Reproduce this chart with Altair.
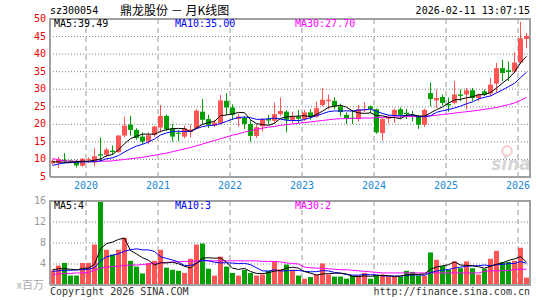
import altair as alt
import pandas as pd
import numpy as np

# ---------------- data (monthly, Jul 2019 .. Feb 2026) ----------------
opens = [8.9, 9.0, 9.9, 9.7, 9.3, 8.2, 9.8, 9.1, 11.5, 11.3,
         12.5, 12.1, 16.8, 19.9, 18.4, 16.5, 15.1, 17.0, 19.1, 22.4,
         18.9, 17.6, 16.5, 17.8, 18.9, 23.6, 21.5, 19.6, 20.3, 26.7,
         24.8, 21.5, 21.8, 20.1, 16.7, 19.4, 21.5, 21.0, 22.9, 23.6,
         21.3, 22.2, 21.5, 23.4, 22.2, 25.5, 26.6, 26.7, 25.1, 22.7,
         21.9, 21.5, 24.0, 25.1, 24.3, 17.5, 21.6, 22.7, 24.3, 23.3,
         22.5, 22.4, 19.9, 28.9, 26.8, 27.8, 25.8, 26.1, 28.5, 28.5,
         29.7, 27.5, 29.4, 28.8, 31.6, 36.0, 35.4, 35.1, 37.6, 44.3]
highs = [10.0, 10.7, 11.8, 9.9, 9.9, 10.4, 10.6, 13.2, 16.2, 13.4,
         14.0, 17.0, 22.2, 22.4, 18.9, 17.7, 17.7, 19.6, 25.5, 22.8,
         20.1, 18.3, 19.6, 19.9, 24.3, 27.2, 22.7, 21.3, 28.4, 28.9,
         25.7, 23.0, 22.4, 21.2, 20.0, 21.8, 22.7, 26.2, 27.6, 24.0,
         23.6, 24.1, 24.1, 24.3, 26.5, 30.3, 28.5, 27.7, 25.9, 23.4,
         24.1, 25.5, 26.3, 25.4, 24.5, 22.0, 22.7, 24.5, 24.8, 24.4,
         23.8, 22.7, 24.5, 31.9, 29.9, 28.5, 27.6, 32.3, 29.9, 30.4,
         30.4, 28.8, 29.9, 33.2, 37.5, 38.4, 37.9, 40.5, 49.2, 46.0]
lows = [8.5, 7.5, 8.9, 9.0, 7.7, 7.9, 9.0, 8.0, 9.4, 10.6,
        11.3, 11.8, 16.3, 16.8, 15.6, 14.4, 14.3, 16.4, 17.7, 18.1,
        15.1, 15.2, 16.0, 16.3, 18.6, 20.1, 18.9, 19.3, 20.0, 22.7,
        21.3, 19.4, 18.7, 15.1, 16.1, 18.0, 19.9, 20.3, 22.4, 17.7,
        20.3, 20.3, 21.0, 21.3, 21.9, 25.1, 24.3, 24.3, 22.2, 20.1,
        20.1, 20.8, 23.4, 23.2, 17.3, 15.3, 20.3, 20.4, 21.5, 21.5,
        20.9, 18.7, 19.3, 25.1, 24.7, 25.4, 23.6, 25.7, 26.6, 24.2,
        26.6, 26.6, 28.1, 28.0, 29.0, 32.3, 32.3, 34.6, 37.2, 41.7]
closes = [9.6, 10.1, 9.5, 9.4, 8.3, 10.2, 10.1, 10.9, 11.1, 12.8,
          12.1, 16.8, 19.6, 18.4, 16.1, 15.1, 16.9, 19.4, 22.4, 18.6,
          16.5, 17.3, 18.9, 18.5, 23.9, 21.3, 19.9, 20.5, 26.8, 24.8,
          22.7, 22.2, 20.1, 16.7, 19.2, 21.5, 21.1, 22.9, 23.8, 21.3,
          22.2, 21.6, 23.4, 22.2, 24.6, 27.0, 27.0, 25.1, 23.5, 21.8,
          21.6, 24.3, 24.3, 24.4, 17.7, 21.5, 22.0, 24.1, 22.7, 22.9,
          22.2, 19.9, 24.1, 27.2, 27.5, 26.1, 25.4, 28.5, 28.1, 29.7,
          27.5, 28.4, 28.5, 31.3, 36.0, 34.6, 34.9, 37.6, 44.5, 45.2]
volumes = [2.8, 3.7, 4.2, 1.8, 1.8, 4.2, 4.2, 7.7, 16.5, 6.7,
           5.8, 6.7, 9.0, 4.6, 3.5, 2.2, 4.2, 4.6, 6.7, 3.3,
           2.9, 2.7, 2.3, 5.0, 7.7, 7.9, 3.1, 1.8, 5.4, 3.5,
           2.3, 1.8, 2.9, 2.3, 1.8, 2.0, 2.7, 4.4, 3.0, 3.9,
           2.9, 1.8, 1.2, 1.5, 2.0, 4.1, 2.0, 1.6, 1.6, 1.2,
           1.8, 1.8, 2.3, 1.2, 1.8, 2.0, 1.6, 1.6, 1.6, 2.7,
           2.5, 1.8, 1.8, 6.2, 4.8, 3.6, 2.9, 4.5, 3.2, 4.5,
           3.2, 2.0, 3.1, 5.0, 6.5, 4.4, 4.4, 4.6, 7.1, 1.4]
# 30-month averages as drawn (they depend on months before the window)
price_ma30 = [10.3, 9.8, 9.6, 9.5, 9.5, 9.4, 9.4, 9.4, 9.5, 9.5,
              9.6, 9.8, 10.0, 10.2, 10.4, 10.6, 10.9, 11.2, 11.5, 11.8,
              12.2, 12.6, 13.0, 13.4, 13.9, 14.4, 14.9, 15.4, 15.9, 16.4,
              16.9, 17.3, 17.8, 18.2, 18.6, 18.9, 19.2, 19.4, 19.7, 19.9,
              20.1, 20.3, 20.5, 20.7, 20.9, 21.1, 21.3, 21.5, 21.6, 21.6,
              21.7, 21.7, 21.8, 21.8, 21.9, 22.0, 22.0, 22.1, 22.1, 22.2,
              22.2, 22.2, 22.3, 22.4, 22.6, 22.8, 23.0, 23.2, 23.4, 23.6,
              23.8, 24.0, 24.3, 24.5, 24.8, 25.2, 25.6, 26.1, 26.8, 27.7]
vol_ma30 = [2.0, 2.1, 2.2, 2.2, 2.3, 2.3, 2.4, 2.8, 3.2, 3.4,
            3.5, 3.6, 3.7, 3.8, 3.8, 3.9, 4.0, 4.1, 4.2, 4.3,
            4.4, 4.4, 4.5, 4.5, 4.6, 4.6, 4.6, 4.6, 4.6, 4.6,
            4.6, 4.6, 4.6, 4.6, 4.6, 4.5, 4.5, 4.5, 4.4, 4.2,
            4.1, 4.0, 3.4, 3.3, 3.2, 3.2, 3.1, 3.0, 2.9, 2.9,
            2.8, 2.7, 2.6, 2.5, 2.4, 2.3, 2.3, 2.3, 2.3, 2.3,
            2.3, 2.3, 2.3, 2.3, 2.3, 2.3, 2.3, 2.3, 2.3, 2.3,
            2.3, 2.3, 2.6, 2.7, 2.7, 2.7, 2.8, 2.9, 3.0, 3.0]
# first values of the short averages (need months before the window)
price_ma5_head = [9.3, 9.3, 9.2, 9.2]
price_ma10_head = [8.3, 8.7, 9.0, 9.1, 9.2, 9.3, 9.3, 9.4, 9.6]
vol_ma5_head = [2.9, 3.1, 3.1, 3.0]
vol_ma10_head = [2.6, 2.7, 2.8, 2.8, 2.9, 2.9, 3.0, 3.3, 4.6]

year_labels = ["2020", "2021", "2022", "2023", "2024", "2025", "2026"]
first_january_index = 6  # Jan 2020 is the 7th month shown (window starts Jul 2019)
price_ticks = [5, 10, 15, 20, 25, 30, 35, 40, 45, 50]
vol_ticks = [4, 8, 12, 16]

code_text = "sz300054"
title_text = "鼎龙股份 － 月K线图"
time_text = "2026-02-11 13:07:15"
price_legend = [("MA5:39.49", "#000000"), ("MA10:35.00", "#0000ff"), ("MA30:27.70", "#ff00ff")]
vol_legend = [("MA5:4", "#000000"), ("MA10:3", "#0000ff"), ("MA30:2", "#ff00ff")]
unit_text = "x百万"
copyright_text = "Copyright 2026 SINA.COM"
url_text = "http://finance.sina.com.cn"


def moving_average(values, window, head):
    s = pd.Series(values, dtype=float).rolling(window).mean()
    s.iloc[: window - 1] = head
    return s.round(3)


n = len(closes)
df = pd.DataFrame({
    "i": np.arange(n),
    "open": opens, "high": highs, "low": lows, "close": closes,
    "vol": volumes,
})
df["dir"] = np.where(df["close"] >= df["open"], "up", "down")
df["ma5"] = moving_average(closes, 5, price_ma5_head)
df["ma10"] = moving_average(closes, 10, price_ma10_head)
df["ma30"] = price_ma30
df["vma5"] = moving_average(volumes, 5, vol_ma5_head)
df["vma10"] = moving_average(volumes, 10, vol_ma10_head)
df["vma30"] = vol_ma30

SHIFT = 5.0 / 12.0
X_MIN, X_MAX = -SHIFT, n - SHIFT
P_MIN, P_MAX = 5, 50
V_MIN, V_MAX = 0, 16

year_df = pd.DataFrame({"pos": [first_january_index + 12 * k - SHIFT for k in range(len(year_labels))],
                        "label": year_labels})
price_tick_df = pd.DataFrame({"v": price_ticks, "label": [str(v) for v in price_ticks]})
vol_tick_df = pd.DataFrame({"v": vol_ticks, "label": [str(v) for v in vol_ticks]})


def grid_path(ticks):
    # each horizontal grid line as a two-point path across the whole x domain
    rows = []
    for v in ticks:
        rows.append({"gx": X_MIN, "v": v})
        rows.append({"gx": X_MAX, "v": v})
    return pd.DataFrame(rows)


def frame_path(lo, hi):
    return pd.DataFrame({"fx": [X_MIN, X_MAX, X_MAX, X_MIN, X_MIN],
                         "fy": [lo, lo, hi, hi, lo],
                         "k": [0, 1, 2, 3, 4]})


# ---------------- styling ----------------
FONT = "DejaVu Sans Mono"
CJK = "Noto Sans CJK SC"
RED = "#ff5555"
GREEN = "#00a000"
GRID = "#999999"
DOT = "#808080"
BORDER = "#a0a0a0"
W = 480
H_TOP = 158
H_VOL = 84
xscale = alt.Scale(domain=[X_MIN, X_MAX], nice=False, zero=False, padding=0)
pscale = alt.Scale(domain=[P_MIN, P_MAX], nice=False, zero=False, padding=0)
vscale = alt.Scale(domain=[V_MIN, V_MAX], nice=False, zero=True, clamp=True, padding=0)

dir_color = alt.Color("dir:N", scale=alt.Scale(domain=["up", "down"], range=[RED, GREEN]), legend=None)

one = alt.Data(values=[{"k": 0}])


def X(field):
    return alt.X(f"{field}:Q", scale=xscale, axis=None, title=None)


def Y(field, scale):
    return alt.Y(f"{field}:Q", scale=scale, axis=None, title=None)


def label(text, x, y, color="#000000", align="left", font=FONT, size=10, **kw):
    return alt.Chart(one).mark_text(text=text, align=align, baseline="middle", font=font,
                                    fontSize=size, color=color, **kw).encode(
        x=alt.value(x), y=alt.value(y))


def anchor(x, y):
    # invisible point fixing the outer corner of the drawing
    return alt.Chart(one).mark_rule(strokeOpacity=0, strokeWidth=1).encode(
        x=alt.value(x), y=alt.value(y), y2=alt.value(y))


def frame(lo, hi, scale):
    return alt.Chart(frame_path(lo, hi)).mark_line(color=BORDER, strokeWidth=2).encode(
        x=X("fx"), y=Y("fy", scale), order="k:Q")


def hgrid(ticks, scale):
    return alt.Chart(grid_path(ticks)).mark_line(color=DOT, strokeWidth=1, strokeDash=[1, 2]).encode(
        x=X("gx"), y=Y("v", scale), detail="v:N")


def vgrid(h):
    return alt.Chart(year_df).mark_rule(color=GRID, strokeWidth=1, strokeDash=[5, 4]).encode(
        x=X("pos"), y=alt.value(0), y2=alt.value(h))


def ylabels(tick_df, scale, color):
    return alt.Chart(tick_df).mark_text(align="right", baseline="middle", font=FONT, fontSize=10,
                                        color=color).encode(
        y=Y("v", scale), x=alt.value(-4), text="label:N")


base = alt.Chart(df)

wicks = base.mark_rule(strokeWidth=1).encode(x=X("i"), y=Y("low", pscale), y2="high:Q", color=dir_color)
bodies = base.mark_bar(size=5).encode(x=X("i"), y=Y("open", pscale), y2="close:Q", color=dir_color)


def ma_line(field, color, scale):
    return base.mark_line(strokeWidth=1, color=color).encode(x=X("i"), y=Y(field, scale))


year_text = alt.Chart(year_df).mark_text(align="center", baseline="middle", font=FONT, fontSize=10,
                                         color="#1a88d0").encode(
    x=X("pos"), y=alt.value(H_TOP + 9), text="label:N")

logo = alt.Chart(one).mark_point(shape="circle", size=90, filled=False, color="#f2b8b8",
                                 strokeWidth=2).encode(x=alt.value(457), y=alt.value(132))

top_layers = [
    hgrid(price_ticks, pscale), vgrid(H_TOP),
    logo,
    label("sina", 461, 146, color="#d6d6d6", align="center", font="DejaVu Sans", size=17,
          fontStyle="italic", fontWeight="bold"),
    wicks, bodies,
    ma_line("ma30", "#ff00ff", pscale),
    ma_line("ma10", "#0000ff", pscale),
    ma_line("ma5", "#000000", pscale),
    ylabels(price_tick_df, pscale, "#ee0000"),
    year_text,
    label(code_text, 0, -8),
    label(title_text, 70, -8, font=CJK, size=12),
    label(time_text, 480, -8, align="right"),
    frame(P_MIN, P_MAX, pscale),
    anchor(-50, -19),
]
for (txt, col), xpos in zip(price_legend, [4, 125, 245]):
    top_layers.append(label(txt, xpos, 5, color=col))

top = alt.layer(*top_layers).properties(width=W, height=H_TOP)

vbars = base.mark_bar(size=5).encode(x=X("i"), y=Y("vol", vscale), color=dir_color)

vol_layers = [
    hgrid(vol_ticks, vscale), vgrid(H_VOL),
    vbars,
    ma_line("vma30", "#ff00ff", vscale),
    ma_line("vma10", "#0000ff", vscale),
    ma_line("vma5", "#000000", vscale),
    ylabels(vol_tick_df, vscale, "#999999"),
    label(unit_text, -6, 85, color="#aaaaaa", align="right", font=CJK, size=11),
    label(copyright_text, 0, 91, color="#333333"),
    label(url_text, 480, 91, color="#333333", align="right"),
    frame(V_MIN, V_MAX, vscale),
    anchor(495, 99),
]
for (txt, col), xpos in zip(vol_legend, [4, 125, 245]):
    vol_layers.append(label(txt, xpos, 5, color=col))

vol = alt.layer(*vol_layers).properties(width=W, height=H_VOL)

chart = alt.vconcat(top, vol, spacing=24, bounds="flush").properties(
    padding=0, background="white"
).configure_view(strokeWidth=0)

chart.save("out.html", embed_options={"renderer": "svg", "actions": False})
